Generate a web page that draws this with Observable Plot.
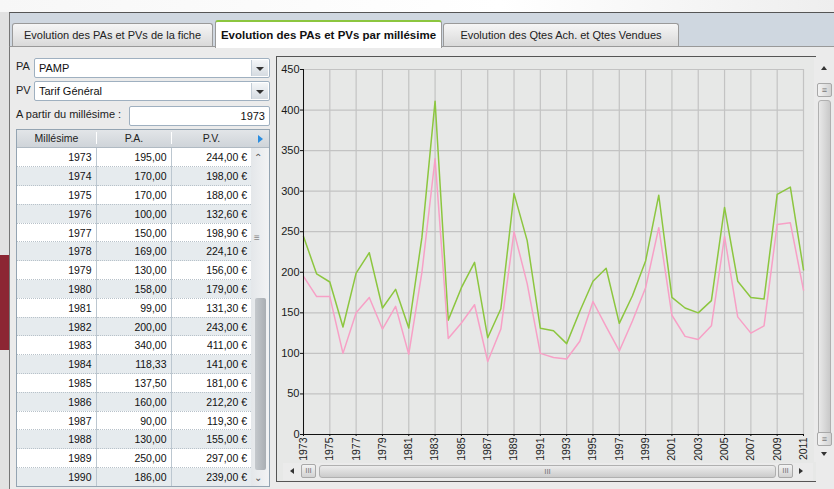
<!DOCTYPE html>
<html><head><meta charset="utf-8">
<script src="https://cdn.jsdelivr.net/npm/d3@7"></script>
<script src="https://cdn.jsdelivr.net/npm/@observablehq/plot@0.6"></script>
<style>
body{margin:0;width:834px;height:489px;overflow:hidden;position:relative;background:#f4f4f4;font-family:"Liberation Sans",Arial,sans-serif;}
.abs{position:absolute;box-sizing:border-box;}
.tab{position:absolute;box-sizing:border-box;border:1px solid #9a9a9a;border-bottom:none;border-radius:3px 3px 0 0;background:linear-gradient(#f6f6f6,#d9d9d9);font-size:11px;color:#222;text-align:center;}
.combo{position:absolute;box-sizing:border-box;background:#fff;border:1px solid #9fb0c0;border-radius:2px;font-size:11px;color:#111;padding-left:4px;}
.btn{position:absolute;right:1px;top:1px;bottom:1px;width:16px;background:linear-gradient(#f4f6f8,#d5dbe1);border-left:1px solid #c2ccd6;}
.btn:after{content:"";position:absolute;left:4px;top:7px;border-left:4px solid transparent;border-right:4px solid transparent;border-top:4px solid #333;}
table{border-collapse:collapse;font-size:10.5px;color:#111;}
td{height:18.8px;padding:0 4px 0 0;text-align:right;border-right:1px solid #bcc7d0;border-bottom:1px dotted #b8c2ca;box-sizing:border-box;}
#chart svg{overflow:visible;}
</style></head>
<body>
<div class="abs" style="left:0;top:0;width:834px;height:12px;background:linear-gradient(90deg,#f7f7f7,#ffffff 60%,#eeeeee);"></div>
<div class="abs" style="left:0;top:12px;width:10px;height:477px;background:#e2e2e2;"></div>
<div class="abs" style="left:0;top:255px;width:10px;height:95px;background:#8c2633;"></div>
<div class="abs" style="left:9px;top:12px;width:825px;height:34px;background:#cfd7e0;border-top:1px solid #555;border-left:1px solid #777;"></div>
<div class="tab" style="left:12px;top:23px;width:201px;height:23px;line-height:22px;">Evolution des PAs et PVs de la fiche</div>
<div class="tab" style="left:443px;top:23px;width:236px;height:23px;line-height:22px;">Evolution des Qtes Ach. et Qtes Vendues</div>
<div class="abs" style="left:9px;top:46px;width:825px;height:443px;background:#ebebeb;border-top:1px solid #999;border-left:1px solid #777;"></div>
<div class="tab" style="left:215px;top:20px;width:227px;height:28px;line-height:26px;background:#fff;border-top:2px solid #8cc63f;font-weight:bold;font-size:11.5px;color:#111;z-index:2;border-bottom:none;">Evolution des PAs et PVs par millésime</div>

<div class="abs" style="left:16px;top:60px;font-size:11px;color:#222;">PA</div>
<div class="combo" style="left:34px;top:58px;width:236px;height:20px;line-height:18px;">PAMP<div class="btn"></div></div>
<div class="abs" style="left:16px;top:84px;font-size:11px;color:#222;">PV</div>
<div class="combo" style="left:34px;top:81px;width:236px;height:20px;line-height:18px;">Tarif Général<div class="btn"></div></div>
<div class="abs" style="left:16px;top:108px;font-size:11px;color:#222;">A partir du millésime :</div>
<div class="combo" id="from" style="left:129px;top:106px;width:141px;height:20px;line-height:18px;text-align:right;padding-right:4px;"></div>

<div class="abs" style="left:16px;top:129px;width:254px;height:358px;border:1px solid #94a4b2;background:#fff;overflow:hidden;">
  <div class="abs" style="left:0;top:0;width:252px;height:18px;background:linear-gradient(#e2e5e8,#cfd4d9);font-size:10.5px;color:#222;border-bottom:1px solid #b0bac3;">
    <div class="abs" style="left:0;top:2px;width:79px;text-align:center;">Millésime</div>
    <div class="abs" style="left:79px;top:2px;width:75px;text-align:center;border-left:1px solid #fff;">P.A.</div>
    <div class="abs" style="left:154px;top:2px;width:80px;text-align:center;border-left:1px solid #fff;">P.V.</div>
    <div class="abs" style="left:241px;top:5px;width:0;height:0;border-top:4px solid transparent;border-bottom:4px solid transparent;border-left:5px solid #2a8de0;"></div>
  </div>
  <div class="abs" style="left:0;top:18px;width:234px;"><table id="tbl" style="width:234px;"></table></div>
  <div class="abs" style="left:234px;top:18px;width:18px;height:340px;background:linear-gradient(90deg,#e4e7ea,#f2f3f4);">
    <div class="abs" style="left:3px;top:4px;font-size:10px;color:#555;">&#8963;</div>
    <div class="abs" style="left:3px;top:84px;font-size:10px;color:#888;">&#8801;</div>
    <div class="abs" style="left:4px;top:150px;width:11px;height:172px;background:linear-gradient(90deg,#c4c8cc,#a9aeb3);border-radius:2px;"></div>
    <div class="abs" style="left:3px;top:324px;font-size:10px;color:#555;">&#8964;</div>
  </div>
</div>

<div class="abs" style="left:276px;top:56px;width:540px;height:426px;background:#e7e8e7;border:1px solid #555;border-right:none;"></div>
<div id="chart" class="abs" style="left:276px;top:56px;"></div>
<!-- right scrollbar -->
<div class="abs" style="left:814px;top:58px;width:20px;height:404px;background:#ebebeb;">
  <div class="abs" style="left:7px;top:8px;border-left:3px solid transparent;border-right:3px solid transparent;border-bottom:4px solid #333;"></div>
  <div class="abs" style="left:3px;top:25px;width:15px;height:14px;background:linear-gradient(90deg,#f3f3f3,#d2d2d2);border:1px solid #a8a8a8;border-radius:2px;font-size:9px;color:#777;text-align:center;line-height:12px;">&#8801;</div>
  <div class="abs" style="left:4px;top:42px;width:13px;height:336px;background:linear-gradient(90deg,#e8e8e8,#c9c9c9);border:1px solid #b0b0b0;border-radius:3px;"></div>
  <div class="abs" style="left:3px;top:374px;width:15px;height:14px;background:linear-gradient(90deg,#f3f3f3,#d2d2d2);border:1px solid #a8a8a8;border-radius:2px;font-size:9px;color:#777;text-align:center;line-height:12px;">&#8801;</div>
  <div class="abs" style="left:7px;top:394px;border-left:3px solid transparent;border-right:3px solid transparent;border-top:4px solid #333;"></div>
</div>
<!-- bottom scrollbar -->
<div class="abs" style="left:283px;top:463px;width:530px;height:17px;background:#ebebeb;">
  <div class="abs" style="left:7px;top:5px;border-top:3px solid transparent;border-bottom:3px solid transparent;border-right:4px solid #333;"></div>
  <div class="abs" style="left:18px;top:1px;width:15px;height:14px;background:linear-gradient(#f3f3f3,#d2d2d2);border:1px solid #a8a8a8;border-radius:2px;font-size:8px;color:#777;text-align:center;line-height:12px;">III</div>
  <div class="abs" style="left:36px;top:2px;width:457px;height:13px;background:linear-gradient(#ececec,#cbcbcb);border:1px solid #b0b0b0;border-radius:3px;font-size:8px;color:#777;text-align:center;line-height:11px;">III</div>
  <div class="abs" style="left:495px;top:1px;width:15px;height:14px;background:linear-gradient(#f3f3f3,#d2d2d2);border:1px solid #a8a8a8;border-radius:2px;font-size:8px;color:#777;text-align:center;line-height:12px;">III</div>
  <div class="abs" style="left:516px;top:5px;border-top:3px solid transparent;border-bottom:3px solid transparent;border-left:4px solid #333;"></div>
</div>

<script>
const years = [1973,1974,1975,1976,1977,1978,1979,1980,1981,1982,1983,1984,1985,1986,1987,1988,1989,1990,1991,1992,1993,1994,1995,1996,1997,1998,1999,2000,2001,2002,2003,2004,2005,2006,2007,2008,2009,2010,2011];
const pa = [195,170,170,100,150,169,130,158,99,200,340,118.33,137.5,160,90,130,250,186,100,95,93,115,164,133,103,140,181,255,147,121,117,134,244,145,125,134,259,261,178];
const pv = [244,198,188,132.6,198.9,224.1,156,179,131.3,243,411,141,181,212.2,119.3,155,297,239,131,128,112,152,189,205,137,171,214,295,169,156,150,165,280,189,169,167,296,305,203];
const xTicks = [1973,1975,1977,1979,1981,1983,1985,1987,1989,1991,1993,1995,1997,1999,2001,2003,2005,2007,2009,2011];
const yTicks = [0,50,100,150,200,250,300,350,400,450];
const fromYear = "1973";
const tableRows = 18;

document.getElementById("from").textContent = fromYear;
const fmt = v => v.toFixed(2).replace(".", ",");
const tbl = document.getElementById("tbl");
for (let i = 0; i < tableRows; i++) {
  const tr = document.createElement("tr");
  tr.style.background = i % 2 ? "#e6ebee" : "#ffffff";
  tr.innerHTML = `<td style="width:79px">${years[i]}</td><td style="width:75px">${fmt(pa[i])}</td><td style="width:80px;border-right:none">${fmt(pv[i])} €</td>`;
  tbl.appendChild(tr);
}

const data = years.map((y, i) => ({year: y, pa: pa[i], pv: pv[i]}));
const chart = Plot.plot({
  width: 538, height: 406,
  marginLeft: 27, marginRight: 11, marginTop: 13, marginBottom: 28,
  x: {domain: [1973, 2011], label: null},
  y: {domain: [0, 450], label: null},
  style: {background: "transparent", fontFamily: "Liberation Sans, Arial, sans-serif", fontSize: "11px", color: "#1a1a1a"},
  marks: [
    Plot.gridX(xTicks, {stroke: "#c3c3c3", strokeOpacity: 1, strokeWidth: 1.2}),
    Plot.gridY(yTicks, {stroke: "#c3c3c3", strokeOpacity: 1, strokeWidth: 1.2}),
    Plot.line(data, {x: "year", y: "pv", stroke: "#8cc63f", strokeWidth: 1.5}),
    Plot.line(data, {x: "year", y: "pa", stroke: "#f7a0c6", strokeWidth: 1.5}),
    Plot.ruleX([1973], {stroke: "#111"}),
    Plot.ruleY([0], {stroke: "#111"}),
    Plot.axisY(yTicks, {tickSize: 3, tickPadding: 1, stroke: "#111", fill: "#1a1a1a", label: null}),
    Plot.axisX(xTicks, {tickSize: 2, tickPadding: 1, tickRotate: -90, fontSize: 10.5, tickFormat: d => String(d), stroke: "#111", fill: "#1a1a1a", label: null})
  ]
});
document.getElementById("chart").appendChild(chart);
</script>
</body></html>
